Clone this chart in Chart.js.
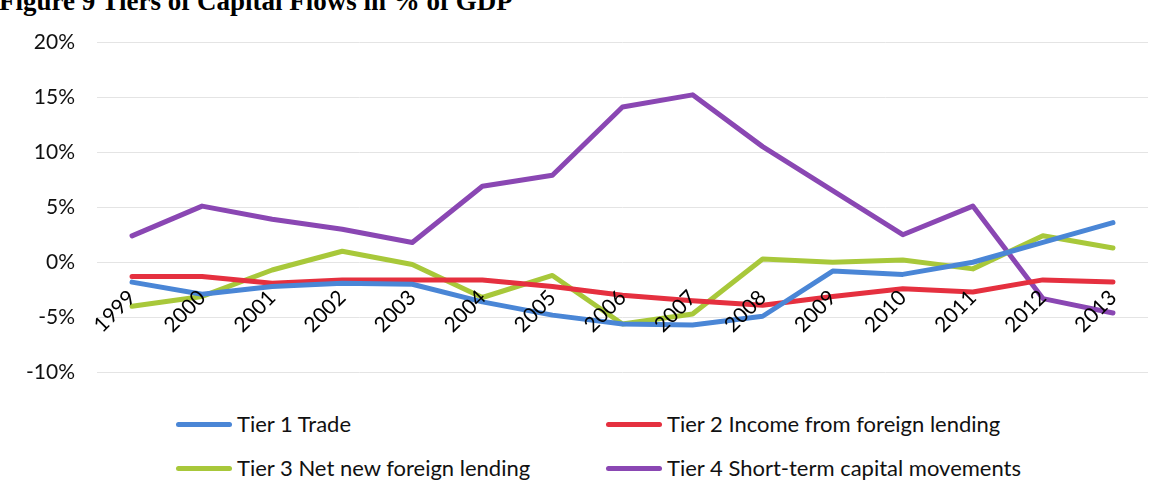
<!DOCTYPE html>
<html>
<head>
<meta charset="utf-8">
<script src="https://cdn.jsdelivr.net/npm/chart.js@4.4.0/dist/chart.umd.min.js"></script>
<style>
  html, body { margin: 0; padding: 0; background: #fff; }
  body { width: 1166px; height: 497px; overflow: hidden; position: relative; }
  #title { position: absolute; left: -1px; top: -12px; font: bold 27px "Liberation Serif", serif; line-height: 27px; color: #000; white-space: nowrap; }
  #wrap { position: absolute; left: 0; top: 0; width: 1166px; height: 407px; }
  .leg { position: absolute; font: 22px Lato, sans-serif; color: #111; white-space: nowrap; height: 26px; line-height: 26px; }
  .leg i { position: absolute; left: 0; top: 11px; width: 56px; height: 5px; border-radius: 3px; }
  .leg span { position: absolute; left: 61px; top: 0; }
</style>
</head>
<body>
<div id="title">Figure 9 Tiers of Capital Flows in % of GDP</div>
<div id="wrap"><canvas id="flows"></canvas></div>
<div id="legend"></div>
<script>
// categories
const years = ["1999", "2000", "2001", "2002", "2003", "2004", "2005", "2006",
  "2007", "2008", "2009", "2010", "2011", "2012", "2013"];

// series, % of GDP
const tier1Trade = [-1.8, -2.9, -2.2, -1.9, -2.0, -3.6, -4.8, -5.6, -5.7, -4.9, -0.8, -1.1, 0.0, 1.8, 3.6];
const tier2Income = [-1.3, -1.3, -1.9, -1.6, -1.6, -1.6, -2.2, -3.0, -3.5, -3.9, -3.1, -2.4, -2.7, -1.6, -1.8];
const tier3Lending = [-4.0, -3.1, -0.7, 1.0, -0.2, -3.2, -1.2, -5.6, -4.7, 0.3, 0.0, 0.2, -0.6, 2.4, 1.3];
const tier4ShortTerm = [2.4, 5.1, 3.9, 3.0, 1.8, 6.9, 7.9, 14.1, 15.2, 10.5, 6.5, 2.5, 5.1, -3.3, -4.6];

// legend labels
const seriesNames = ["Tier 1 Trade", "Tier 2 Income from foreign lending",
  "Tier 3 Net new foreign lending", "Tier 4 Short-term capital movements"];

// y tick range
const yMin = -10, yMax = 20, yStep = 5;

const colors = ["#4a86d6", "#e5303f", "#a8c83a", "#8a47b3"];
const seriesData = [tier1Trade, tier2Income, tier3Lending, tier4ShortTerm];

const flowsChart = new Chart(document.getElementById("flows"), {
  type: "line",
  data: {
    labels: years,
    datasets: seriesData.map((d, i) => ({
      label: seriesNames[i],
      data: d,
      borderColor: colors[i],
      backgroundColor: colors[i],
      borderWidth: 5,
      borderCapStyle: "round",
      borderJoinStyle: "round",
      pointRadius: 0,
      tension: 0,
      fill: false,
    })),
  },
  options: {
    responsive: true,
    maintainAspectRatio: false,
    animation: false,
    layout: { padding: { left: 0, right: 18, top: 42, bottom: 10 } },
    plugins: {
      legend: { display: false },
      tooltip: { enabled: false },
    },
    scales: {
      x: {
        // category axis crosses at 0%
        position: { y: 0 },
        offset: true,
        grid: { display: false, drawTicks: false },
        border: { display: false },
        ticks: {
          z: 1, // year labels drawn over the lines
          autoSkip: false,
          minRotation: 45,
          maxRotation: 45,
          padding: 23,
          color: "#000",
          font: { family: "Lato", size: 21 },
        },
      },
      y: {
        min: yMin,
        max: yMax,
        afterFit: (scale) => { scale.width = 97; },
        grid: { color: "#e4e4e4", lineWidth: 1, drawTicks: false },
        border: { display: false },
        ticks: {
          stepSize: yStep,
          padding: 22,
          color: "#111",
          font: { family: "Lato", size: 21 },
          callback: (v) => v + "%",
        },
      },
    },
  },
});

// two-column legend under the chart
const legendPos = [[176, 411], [606, 411], [176, 455], [606, 455]];
const legend = document.getElementById("legend");
flowsChart.data.datasets.forEach((ds, i) => {
  const item = document.createElement("div");
  item.className = "leg";
  item.style.left = legendPos[i][0] + "px";
  item.style.top = legendPos[i][1] + "px";
  item.innerHTML = `<i style="background:${ds.borderColor}"></i><span>${ds.label}</span>`;
  legend.appendChild(item);
});
</script>
</body>
</html>
